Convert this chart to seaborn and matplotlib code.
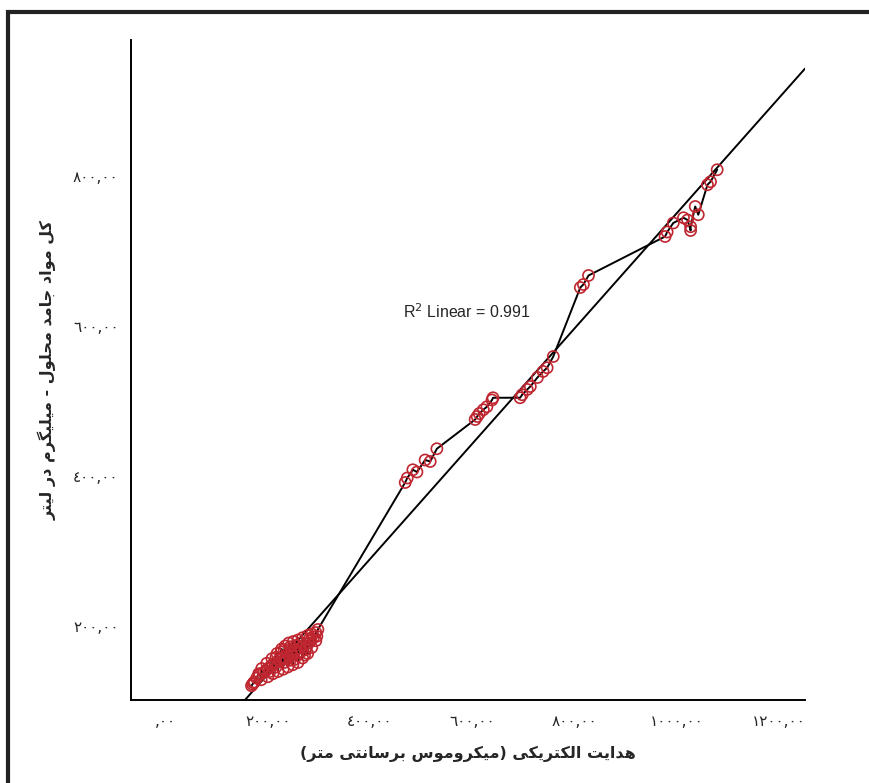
import numpy as np
import pandas as pd
import matplotlib
matplotlib.use("Agg")
import matplotlib.pyplot as plt
import seaborn as sns
from matplotlib.patches import Rectangle

# ---------------- data ----------------
ec = [168, 172, 170, 178, 184, 192, 200, 206, 214, 222, 230, 238, 246, 254, 262, 270, 280, 290, 298,
      188, 198, 208, 218, 227, 234, 241, 250, 259, 268, 278, 286, 294,
      174, 187, 200, 210, 220, 230, 239, 249, 259, 268, 278, 286, 294,
      196, 210, 224, 236, 248, 258, 266, 274, 284, 296,
      182, 204, 216, 226, 232, 244, 252, 264, 272, 282, 216, 232, 244, 256, 276,
      469, 473, 484, 492, 508, 518, 531,
      606, 610, 614, 622, 629, 639, 641,
      694, 698, 708, 714, 728, 739, 747, 759,
      812, 818, 828,
      978, 982, 994, 1014, 1022, 1028, 1028, 1037, 1043, 1061, 1067, 1080]
tds = [120, 124, 122, 130, 135, 138, 143, 146, 150, 155, 158, 162, 165, 168, 170, 174, 177, 185, 195,
       143, 150, 156, 163, 169, 173, 177, 179, 181, 184, 187, 189, 191,
       125, 128, 132, 136, 139, 142, 145, 148, 151, 157, 163, 171, 180,
       140, 149, 152, 156, 160, 164, 166, 168, 180, 186,
       136, 139, 158, 165, 151, 172, 155, 177, 161, 183, 145, 168, 154, 174, 172,
       391, 397, 408, 405, 421, 419, 436,
       475, 479, 483, 488, 492, 501, 504,
       504, 508, 515, 519, 531, 539, 544, 559,
       651, 655, 667,
       719, 725, 737, 744, 741, 732, 727, 759, 748, 788, 792, 808]

x_ticks = [0, 200, 400, 600, 800, 1000, 1200]
x_tick_labels = [",٠٠", "٢٠٠,٠٠", "٤٠٠,٠٠", "٦٠٠,٠٠", "٨٠٠,٠٠", "١٠٠٠,٠٠", "١٢٠٠,٠٠"]
y_ticks = [200, 400, 600, 800]
y_tick_labels = ["٢٠٠,٠٠", "٤٠٠,٠٠", "٦٠٠,٠٠", "٨٠٠,٠٠"]
x_label = "هدایت الکتریکی (میکروموس برسانتی متر)"
y_label = "کل مواد جامد محلول - میلیگرم در لیتر"
r2_text = r"R$^2$ Linear = 0.991"

# ---------------- simple Arabic/Persian shaping ----------------
FORMS = {
    '\u0627': ('\uFE8D', '\uFE8E', None, None),
    '\u0628': ('\uFE8F', '\uFE90', '\uFE91', '\uFE92'),
    '\u062A': ('\uFE95', '\uFE96', '\uFE97', '\uFE98'),
    '\u062C': ('\uFE9D', '\uFE9E', '\uFE9F', '\uFEA0'),
    '\u062D': ('\uFEA1', '\uFEA2', '\uFEA3', '\uFEA4'),
    '\u062F': ('\uFEA9', '\uFEAA', None, None),
    '\u0631': ('\uFEAD', '\uFEAE', None, None),
    '\u0633': ('\uFEB1', '\uFEB2', '\uFEB3', '\uFEB4'),
    '\u0644': ('\uFEDD', '\uFEDE', '\uFEDF', '\uFEE0'),
    '\u0645': ('\uFEE1', '\uFEE2', '\uFEE3', '\uFEE4'),
    '\u0646': ('\uFEE5', '\uFEE6', '\uFEE7', '\uFEE8'),
    '\u0647': ('\uFEE9', '\uFEEA', '\uFEEB', '\uFEEC'),
    '\u0648': ('\uFEED', '\uFEEE', None, None),
    '\u06A9': ('\uFB8E', '\uFB8F', '\uFB90', '\uFB91'),
    '\u06AF': ('\uFB92', '\uFB93', '\uFB94', '\uFB95'),
    '\u06CC': ('\uFBFC', '\uFBFD', '\uFBFE', '\uFBFF'),
}


def shape_rtl(s):
    out = []
    n = len(s)
    for i, c in enumerate(s):
        if c not in FORMS:
            out.append(c)
            continue
        f = FORMS[c]
        prev_join = i > 0 and s[i - 1] in FORMS and FORMS[s[i - 1]][2] is not None
        next_join = f[2] is not None and i + 1 < n and s[i + 1] in FORMS
        if prev_join and next_join:
            out.append(f[3])
        elif prev_join:
            out.append(f[1])
        elif next_join:
            out.append(f[2])
        else:
            out.append(f[0])
    vis = ''.join(reversed(out))
    vis = vis.translate(str.maketrans({'(': ')', ')': '('}))
    return vis


# ---------------- plot ----------------
sns.set_style("white")
plt.rcParams['font.family'] = ['DejaVu Sans']

df = pd.DataFrame({"ec": ec, "tds": tds})

fig = plt.figure(figsize=(8.69, 7.83), dpi=100)
ax = fig.add_axes([131 / 869, 1 - 700 / 783, (805 - 131) / 869, (700 - 40) / 783])

xlim = (-68, 1252)
ylim = (101, 981)
ax.set_xlim(xlim)
ax.set_ylim(ylim)

sns.regplot(data=df, x="ec", y="tds", ax=ax, scatter=False, ci=None,
            truncate=False, color="black", line_kws={"linewidth": 1.4})
sns.lineplot(data=df, x="ec", y="tds", ax=ax, sort=True, estimator=None,
             color="black", linewidth=1.4)
sns.scatterplot(data=df, x="ec", y="tds", ax=ax, marker="o", s=64,
                facecolor="none", edgecolor="#bf2630", linewidth=1.2, zorder=3)

ax.set_xlim(xlim)
ax.set_ylim(ylim)

for side in ["top", "right"]:
    ax.spines[side].set_visible(False)
for side in ["left", "bottom"]:
    ax.spines[side].set_color("black")
    ax.spines[side].set_linewidth(1.4)

ax.set_xticks(x_ticks)
ax.set_xticklabels(x_tick_labels, fontsize=11)
ax.set_yticks(y_ticks)
ax.set_yticklabels(y_tick_labels, fontsize=11)
ax.tick_params(axis="x", direction="out", length=7, width=1.2, color="black", pad=3)
ax.tick_params(axis="y", direction="out", length=6, width=1.2, color="black", pad=3)

ax.set_xlabel(shape_rtl(x_label), fontsize=11.5, fontweight="bold", labelpad=12)
ax.set_ylabel(shape_rtl(y_label), fontsize=11.5, fontweight="bold", labelpad=12)

ax.text(465, 619, r2_text, fontsize=11.5, ha="left", va="center",
        family="Liberation Sans")

# outer frame
fig.patches.append(Rectangle((8 / 869, -0.1), 1.2, 1 - 12 / 783 + 0.1,
                             transform=fig.transFigure, fill=False,
                             edgecolor="#222222", linewidth=3.0))

fig.savefig("out.png", dpi=100)
